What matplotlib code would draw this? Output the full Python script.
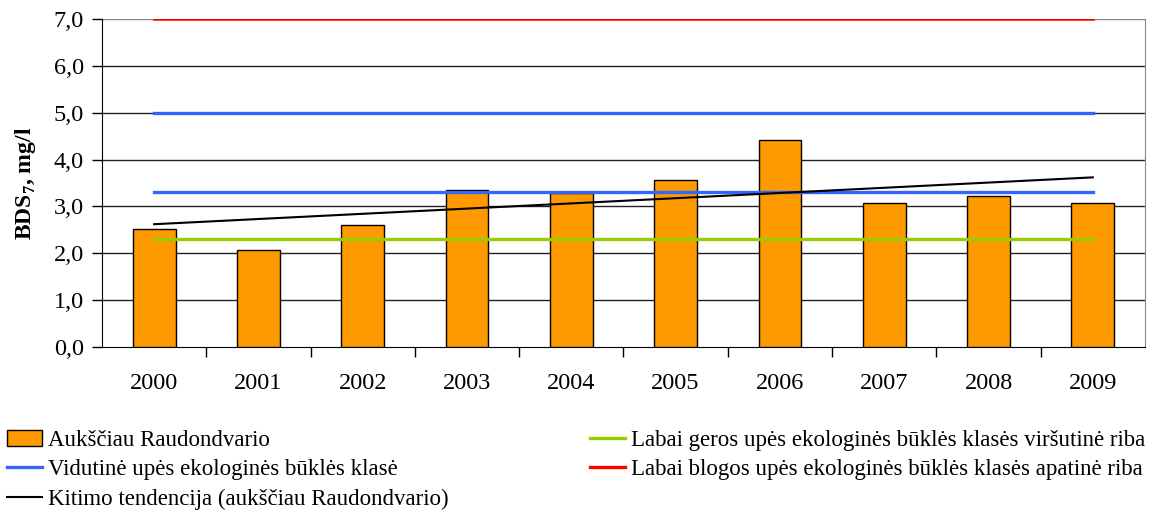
import matplotlib.pyplot as plt
from matplotlib.patches import Patch
from matplotlib.lines import Line2D

# data
years = ["2000", "2001", "2002", "2003", "2004", "2005", "2006", "2007", "2008", "2009"]
bds7 = [2.52, 2.07, 2.61, 3.35, 3.29, 3.56, 4.42, 3.07, 3.22, 3.07]
good_upper = 2.3      # Labai geros ... viršutinė riba
moderate_low = 3.3    # Vidutinė klasė (apatinė)
moderate_high = 5.0   # Vidutinė klasė (viršutinė)
bad_lower = 7.0       # Labai blogos ... apatinė riba
trend = [2.62, 3.62]  # Kitimo tendencija, 2000 -> 2009

yticks = [0, 1, 2, 3, 4, 5, 6, 7]
ytick_labels = [f"{v:.1f}".replace(".", ",") for v in yticks]

plt.rcParams['font.family'] = ['Liberation Serif', 'DejaVu Serif']

fig = plt.figure(figsize=(11.55, 5.12), dpi=100)
ax = fig.add_axes([0.0883, 0.3223, 0.9030, 0.6406])

x = list(range(len(years)))
ax.bar(x, bds7, width=0.41, color="#FF9900", edgecolor="black", linewidth=1, zorder=3)

first, last = x[0], x[-1]
ax.plot([first, last], [good_upper] * 2, color="#99CC00", lw=2.4, zorder=4)
ax.plot([first, last], [moderate_low] * 2, color="#3366FF", lw=2.4, zorder=4)
ax.plot([first, last], [moderate_high] * 2, color="#3366FF", lw=2.4, zorder=4)
ax.plot([first, last], [bad_lower] * 2, color="#FF0000", lw=1.8, zorder=4)
ax.plot([first, last], trend, color="black", lw=1.5, zorder=5)

ax.set_xlim(-0.5, len(years) - 0.5)
ax.set_ylim(0, 7)
ax.set_yticks(yticks)
ax.set_yticklabels(ytick_labels, fontsize=17.5)
ax.set_xticks(x)
ax.set_xticklabels(years, fontsize=17.5)
ax.set_xticks([i + 0.5 for i in x[:-1]], minor=True)
ax.tick_params(axis="x", which="major", length=0, pad=19)
ax.tick_params(axis="x", which="minor", length=7, width=1, direction="out")
ax.tick_params(axis="y", length=7, width=1, direction="out", pad=6)

for v in yticks[1:-1]:
    ax.axhline(v, color="#222222", lw=1, zorder=1)
ax.axhline(7, color="#888888", lw=1, zorder=1)

ax.spines["top"].set_visible(False)
ax.spines["right"].set_color("#888888")
ax.spines["left"].set_color("black")
ax.spines["bottom"].set_color("black")

ax.set_ylabel("BDS$_\\mathregular{7}$, mg/l", fontsize=17, fontweight="bold", labelpad=11)

h_bar = Patch(facecolor="#FF9900", edgecolor="black", lw=1)
h_blue = Line2D([], [], color="#3366FF", lw=2.4)
h_trend = Line2D([], [], color="black", lw=1.5)
h_green = Line2D([], [], color="#99CC00", lw=2.4)
h_red = Line2D([], [], color="#FF0000", lw=2.4)

common = dict(loc="upper left", frameon=False, fontsize=16.5, handlelength=1.53,
              handletextpad=0.28, labelspacing=0.36, borderaxespad=0, borderpad=0)
fig.legend([h_bar, h_blue, h_trend],
           ["Aukščiau Raudondvario",
            "Vidutinė upės ekologinės būklės klasė",
            "Kitimo tendencija (aukščiau Raudondvario)"],
           bbox_to_anchor=(0.006, 0.160), **common)
fig.legend([h_green, h_red],
           ["Labai geros upės ekologinės būklės klasės viršutinė riba",
            "Labai blogos upės ekologinės būklės klasės apatinė riba"],
           bbox_to_anchor=(0.5108, 0.160), **common)

fig.savefig("out.png", dpi=100)
